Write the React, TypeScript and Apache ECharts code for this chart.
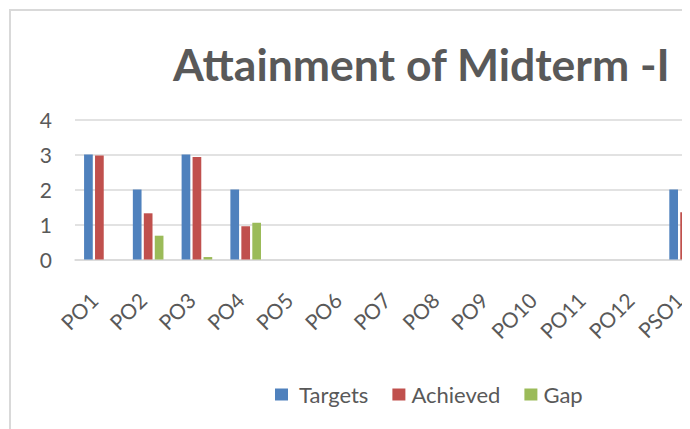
import React, { useEffect, useRef } from "react";
import * as echarts from "echarts";

const categories = ["PO1", "PO2", "PO3", "PO4", "PO5", "PO6", "PO7", "PO8", "PO9", "PO10", "PO11", "PO12", "PSO1"];
const targets = [3, 2, 3, 2, 0, 0, 0, 0, 0, 0, 0, 0, 2];
const achieved = [2.97, 1.32, 2.93, 0.95, 0, 0, 0, 0, 0, 0, 0, 0, 1.35];
const gap = [0, 0.68, 0.07, 1.05, 0, 0, 0, 0, 0, 0, 0, 0, 0.65];
const seriesNames = ["Targets", "Achieved", "Gap"];
const colors = ["#4F81BD", "#C0504D", "#9BBB59"];
const titleText = "Attainment of Midterm -I";

const FONT = "Lato, 'Open Sans', sans-serif";
const TEXT_COLOR = "#595959";

export default function App() {
  const ref = useRef<HTMLDivElement>(null);
  useEffect(() => {
    if (!ref.current) return;
    const chart = echarts.init(ref.current, null, { renderer: "svg" });
    const values = [targets, achieved, gap];
    chart.setOption({
      animation: false,
      color: colors,
      title: {
        text: titleText,
        left: 160,
        top: 28,
        textStyle: { fontFamily: FONT, fontSize: 44.5, fontWeight: "bold", color: TEXT_COLOR },
      },
      legend: {
        left: 262,
        top: 370.5,
        itemWidth: 13,
        itemHeight: 12,
        itemGap: 24,
        icon: "rect",
        textStyle: { fontFamily: FONT, fontSize: 22, color: TEXT_COLOR, lineHeight: 20 },
        data: seriesNames.map((n, i) => ({
          name: n,
          textStyle: { padding: [0, 0, 0, i === 0 ? 6 : 1] },
        })),
      },
      grid: {
        left: 67,
        top: 111.5,
        height: 140,
        width: 634,
        containLabel: false,
        outerBoundsMode: "none",
      },
      xAxis: {
        type: "category",
        data: categories,
        axisLine: { lineStyle: { color: "#d9d9d9", width: 1.5 } },
        axisTick: { show: false },
        axisLabel: {
          rotate: 45,
          margin: 31,
          interval: 0,
          padding: [0, 8, 0, 0],
          fontFamily: FONT,
          fontSize: 21,
          color: TEXT_COLOR,
        },
      },
      yAxis: {
        type: "value",
        min: 0,
        max: 4,
        interval: 1,
        axisLine: { show: false },
        axisTick: { show: false },
        splitLine: { lineStyle: { color: "#d9d9d9", width: 1.5 } },
        axisLabel: { margin: 23, fontFamily: FONT, fontSize: 21, color: TEXT_COLOR },
      },
      series: seriesNames.map((n, i) => ({
        name: n,
        type: "bar",
        data: values[i],
        barWidth: 8.7,
        barGap: "26%",
        itemStyle: { color: colors[i] },
      })),
      graphic: [
        { type: "line", shape: { x1: 2, y1: 1.5, x2: 2, y2: 421 }, style: { stroke: "#d9d9d9", lineWidth: 2 } },
        { type: "line", shape: { x1: 1, y1: 2, x2: 682, y2: 2 }, style: { stroke: "#d9d9d9", lineWidth: 2 } },
      ],
    });
    return () => chart.dispose();
  }, []);
  return <div ref={ref} style={{ width: 682, height: 421 }} />;
}
